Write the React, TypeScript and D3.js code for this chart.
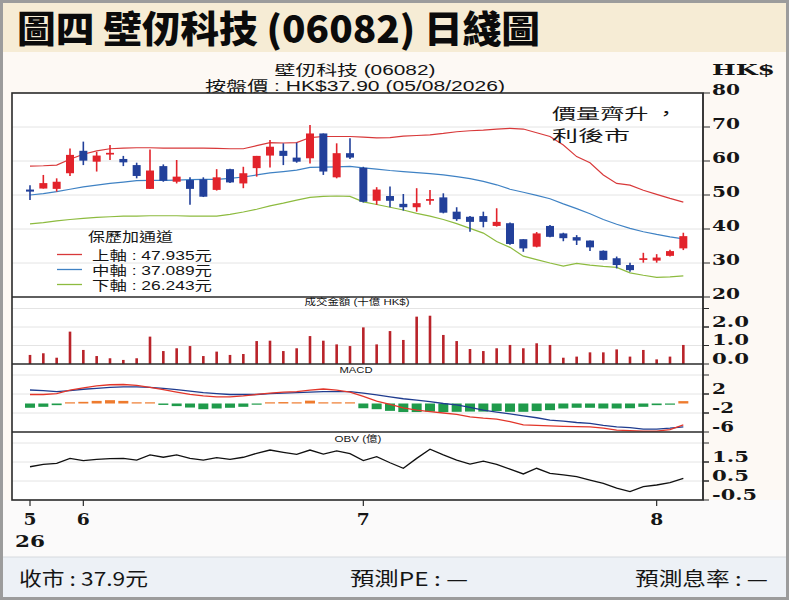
import React from 'react';
import * as d3 from 'd3';

// ---------- data ----------
const dates = [
  '2026-05-26','2026-05-27','2026-05-28','2026-05-29',
  '2026-06-01','2026-06-02','2026-06-03','2026-06-04','2026-06-05',
  '2026-06-08','2026-06-09','2026-06-10','2026-06-11','2026-06-12',
  '2026-06-15','2026-06-16','2026-06-17','2026-06-18',
  '2026-06-22','2026-06-23','2026-06-24','2026-06-25','2026-06-26',
  '2026-06-29','2026-06-30',
  '2026-07-02','2026-07-03',
  '2026-07-06','2026-07-07','2026-07-08','2026-07-09','2026-07-10',
  '2026-07-13','2026-07-14','2026-07-15','2026-07-16','2026-07-17',
  '2026-07-20','2026-07-21','2026-07-22','2026-07-23','2026-07-24',
  '2026-07-27','2026-07-28','2026-07-29','2026-07-30','2026-07-31',
  '2026-08-03','2026-08-04','2026-08-05',
];
const openP = [51.6,51.9,51.8,56.4,63.0,59.8,61.9,60.6,58.8,51.8,58.5,53.9,54.4,54.6,51.5,57.6,53.4,57.9,61.6,63.0,61.0,60.8,68.1,55.2,62.3,58.0,48.3,49.7,47.4,46.4,48.3,49.3,45.1,43.6,43.8,40.9,41.7,37.0,34.8,40.9,38.7,37.6,36.6,33.6,31.4,29.4,30.9,30.7,32.1,34.3];
const closeP = [51.0,53.5,53.9,61.8,60.1,61.6,62.4,59.6,55.6,57.2,54.2,55.4,51.8,49.5,55.2,53.7,56.4,61.5,64.2,61.5,59.8,68.1,56.9,62.3,61.0,48.0,51.6,48.3,46.4,47.6,48.8,44.8,42.9,42.1,42.1,42.1,35.6,34.3,38.7,37.7,37.3,36.6,34.6,30.9,29.4,27.9,31.4,31.6,33.5,37.9];
const highP = [52.9,55.9,54.9,63.7,65.7,62.7,64.7,61.5,59.5,63.4,59.0,60.3,55.2,55.2,57.6,57.7,58.3,61.5,66.2,65.2,65.4,70.6,68.1,65.2,66.7,58.3,52.3,52.5,50.3,52.0,51.5,50.5,46.4,43.8,45.1,46.1,41.9,37.0,39.1,41.2,38.9,38.2,36.6,33.7,31.9,30.1,33.0,32.6,33.9,38.9];
const lowP = [48.5,51.9,51.0,55.6,58.8,56.9,60.3,58.5,54.9,51.8,53.9,53.4,47.1,49.4,51.3,53.5,52.0,55.4,58.1,58.8,59.5,59.3,55.9,54.9,60.6,47.8,47.1,46.4,45.4,45.1,47.1,44.6,42.4,39.2,40.5,40.7,35.4,33.3,34.6,37.6,36.4,35.3,33.5,30.8,28.4,27.4,30.1,30.1,31.9,33.8];

const bollUpper = [58.5,58.6,58.8,60.5,62.0,63.0,63.6,63.8,63.9,63.9,63.8,63.8,63.8,63.8,63.7,63.6,63.6,64.5,65.4,65.3,65.4,66.9,67.2,67.2,67.2,67.0,66.8,66.9,67.3,67.5,67.7,68.1,68.6,68.9,69.1,69.4,69.6,69.4,68.3,67.2,64.7,61.3,59.5,55.9,53.4,52.9,51.4,50.2,49.0,47.9];
const bollMid = [50.0,50.4,51.0,51.7,52.4,52.9,53.4,53.8,54.2,54.3,54.3,54.4,54.5,54.6,54.6,54.9,55.3,55.9,56.5,56.9,57.3,58.1,58.2,58.3,58.4,58.0,57.6,57.2,56.9,56.6,56.3,55.9,55.4,54.8,54.0,53.0,51.7,50.8,49.9,48.9,47.4,46.0,44.5,42.8,41.4,40.2,39.2,38.4,37.7,37.1];
const bollLower = [41.5,41.9,42.4,42.8,43.1,43.4,43.6,43.8,43.8,43.9,43.9,43.9,43.8,43.8,43.8,44.3,45.0,45.8,46.8,47.6,48.5,49.3,49.6,49.7,49.6,48.0,47.2,46.4,45.6,44.6,43.8,42.8,41.6,40.2,38.8,36.3,34.6,32.0,31.0,30.0,29.1,29.9,29.4,29.0,28.7,27.1,26.4,25.8,25.9,26.2];

const turnover = [0.49,0.58,0.34,1.75,0.76,0.43,0.31,0.22,0.31,1.48,0.70,0.85,0.97,0.43,0.67,0.49,0.54,1.24,1.26,0.70,0.85,1.51,1.26,1.06,0.97,1.98,1.06,1.78,1.30,2.56,2.61,1.57,1.24,0.81,0.70,0.85,1.03,0.85,1.12,1.03,0.34,0.40,0.63,0.63,0.79,0.40,0.76,0.25,0.40,1.03];

const macdDif = [1.9,1.9,2.1,2.8,3.3,3.7,3.95,4.0,3.8,3.4,2.9,2.4,1.9,1.6,1.4,1.4,1.6,1.9,2.2,2.4,2.5,2.8,3.05,2.8,2.4,1.5,0.5,-0.2,-0.9,-1.4,-1.7,-2.0,-2.3,-2.8,-3.1,-3.3,-3.8,-4.5,-4.6,-4.7,-4.8,-4.85,-4.9,-5.2,-5.6,-5.7,-5.8,-5.8,-5.5,-4.5];
const macdSignal = [2.84,2.7,2.5,2.7,3.0,3.2,3.4,3.5,3.5,3.4,3.2,2.9,2.6,2.3,2.1,1.9,1.9,1.9,2.1,2.2,2.3,2.4,2.5,2.5,2.5,2.2,1.8,1.4,1.0,0.7,0.4,0.0,-0.3,-0.8,-1.4,-1.8,-2.2,-2.6,-3.0,-3.5,-3.7,-4.0,-4.2,-4.6,-4.9,-5.1,-5.4,-5.4,-5.2,-4.9];
const macdHist = [-0.9,-0.7,-0.35,0.1,0.35,0.55,0.7,0.55,0.15,0.0,-0.3,-0.55,-0.85,-1.2,-1.05,-0.9,-0.7,-0.1,0.15,0.3,0.2,0.6,0.2,0.15,0.1,-1.0,-1.2,-1.55,-1.8,-1.8,-1.7,-1.8,-1.75,-1.7,-1.7,-1.6,-1.75,-1.75,-1.6,-1.4,-1.05,-0.9,-0.9,-1.05,-1.05,-1.0,-0.7,-0.35,-0.1,0.5];

const obv = [1.25,1.38,1.43,1.69,1.57,1.64,1.68,1.69,1.6,1.87,1.75,1.87,1.69,1.6,1.73,1.64,1.75,1.96,2.13,2.01,1.9,2.13,1.92,2.08,1.94,1.57,1.78,1.46,1.17,1.69,2.17,1.87,1.6,1.39,1.55,1.38,1.12,0.87,1.17,0.9,0.82,0.73,0.55,0.38,0.12,-0.06,0.2,0.29,0.41,0.64];

const priceTicks = [80, 70, 60, 50, 40, 30, 20];
const priceGrid = [70, 60, 50, 40, 30];
const volTicks = [2.0, 1.0, 0.0];
const volGrid = [3, 2, 1];
const macdTicks = [2, -2, -6];
const macdGrid = [6, 2, -2];
const obvTicks = [1.5, 0.5, -0.5];
const obvGrid = [2.5, 1.5, 0.5];

const legendTitle = '保歷加通道';
const legendLabels = ['上軸', '中軸', '下軸'];
const legendValues = [47.935, 37.089, 26.243];

const titleText = '圖四  壁仞科技 (06082) 日綫圖';
const stockName = '壁仞科技 (06082)';
const quoteText = '按盤價 : HK$37.90 (05/08/2026)';
const noteLines = ['價量齊升 ，', '利後市'];
const footerTexts = ['收市 : 37.9元', '預測PE : —', '預測息率 : —'];

// ---------- styles ----------
const SANS = "'Liberation Sans','Noto Sans CJK TC','Noto Sans',sans-serif";
const CJK = "'Noto Sans CJK TC','Noto Sans',sans-serif";
const SERIF = "'DejaVu Serif','Liberation Serif',serif";
const C_UP = '#e2232b';
const C_DN = '#22409a';
const C_UPPER = '#d8393a';
const C_MID = '#3f82c4';
const C_LOWER = '#8dbb3f';
const C_GRID = '#e4e4e4';
const C_AXIS = '#2a2a2a';

function T(props: any) {
  const { x, y, w, size, anchor = 'start', weight = 400, family = SANS, fill = '#151515', children } = props;
  return (
    <text x={x} y={y} fontSize={size} fontWeight={weight} fontFamily={family} textAnchor={anchor}
      fill={fill} textLength={w} lengthAdjust="spacingAndGlyphs">{children}</text>
  );
}

function labelWidth(s: string) {
  let w = 0;
  for (const ch of s) w += ch === '.' ? 9 : ch === '-' ? 8 : 14;
  return w;
}

export default function App() {
  const L = 12, R = 703;
  const x = d3.scaleLinear().domain([0, dates.length - 1]).range([30, 683.33]);
  const yP = d3.scaleLinear().domain([20, 80]).range([297, 93]);
  const yV = d3.scaleLinear().domain([0, 1]).range([364, 345.5]);
  const yM = d3.scaleLinear().domain([-6, 2]).range([432, 394]);
  const yO = d3.scaleLinear().domain([-0.5, 1.5]).range([500, 462]);

  const bandLine = (arr: number[]) => d3.line<number>().x((_, i) => x(i)).y((d) => yP(d))(arr) || '';
  const macdLine = (arr: number[]) => d3.line<number>().x((_, i) => x(i)).y((d) => yM(d))(arr) || '';
  const obvLine = d3.line<number>().x((_, i) => x(i)).y((d) => yO(d))(obv) || '';

  const monthTicks: { i: number; label: string; sub?: string }[] = [];
  dates.forEach((d, i) => {
    const m = +d.slice(5, 7);
    const prev = i > 0 ? +dates[i - 1].slice(5, 7) : -1;
    if (i === 0) monthTicks.push({ i, label: String(m), sub: String(+d.slice(8, 10)) });
    else if (m !== prev) monthTicks.push({ i, label: String(m) });
  });

  const bodyW = 8;

  return (
    <svg width={789} height={600} style={{ position: 'absolute', left: 0, top: 0 }}
      xmlns="http://www.w3.org/2000/svg">
      <rect x={0} y={0} width={789} height={600} fill="#fdf9f4" />
      <rect x={0} y={0} width={789} height={52} fill="#f6ecd5" />
      <rect x={0} y={500} width={789} height={57} fill="#fbfafa" />
      <rect x={2} y={557} width={785} height={41} fill="#edf1f6" />
      <line x1={2} x2={787} y1={557} y2={557} stroke="#d6dade" strokeWidth={1} />
      <rect x={1.5} y={1.5} width={786} height={597} fill="none" stroke="#9c9c9c" strokeWidth={3} />

      {/* title */}
      <T x={17} y={43} w={523} size={37} weight={900} family={CJK} fill="#0b0b0b">{titleText}</T>

      {/* header */}
      <T x={355} y={75} w={161} size={14} anchor="middle">{stockName}</T>
      <T x={355} y={91} w={300} size={14} anchor="middle">{quoteText}</T>
      <T x={712} y={75} w={63} size={15} weight={700} family={SERIF}>HK$</T>

      <rect x={L} y={93} width={R - L} height={407} fill="#ffffff" />

      {priceGrid.map((v) => <line key={'pg' + v} x1={L} x2={R} y1={yP(v)} y2={yP(v)} stroke={C_GRID} />)}
      {volGrid.map((v) => <line key={'vg' + v} x1={L} x2={R} y1={yV(v)} y2={yV(v)} stroke={C_GRID} />)}
      {macdGrid.map((v) => <line key={'mg' + v} x1={L} x2={R} y1={yM(v)} y2={yM(v)} stroke={C_GRID} />)}
      {obvGrid.map((v) => <line key={'og' + v} x1={L} x2={R} y1={yO(v)} y2={yO(v)} stroke={C_GRID} />)}

      <path d={bandLine(bollUpper)} fill="none" stroke={C_UPPER} strokeWidth={1.2} />
      <path d={bandLine(bollMid)} fill="none" stroke={C_MID} strokeWidth={1.2} />
      <path d={bandLine(bollLower)} fill="none" stroke={C_LOWER} strokeWidth={1.2} />

      {openP.map((o, i) => {
        const c = closeP[i];
        const up = c >= o;
        const col = up ? C_UP : C_DN;
        const top = yP(Math.max(o, c));
        const bot = yP(Math.min(o, c));
        return (
          <g key={'c' + i}>
            <line x1={x(i)} x2={x(i)} y1={yP(highP[i])} y2={yP(lowP[i])} stroke={col} strokeWidth={1.6} />
            <rect x={x(i) - bodyW / 2} y={top} width={bodyW} height={Math.max(1.6, bot - top)} fill={col} />
          </g>
        );
      })}

      {/* annotation */}
      <T x={552} y={119} w={126} size={14.5} family={CJK}>{noteLines[0]}</T>
      <T x={552} y={141} w={78} size={14.5} family={CJK}>{noteLines[1]}</T>

      {/* legend */}
      <T x={88} y={241} w={85} size={13} family={CJK}>{legendTitle}</T>
      {legendLabels.map((lb, k) => {
        const cy = 254.5 + k * 15;
        const col = [C_UPPER, C_MID, C_LOWER][k];
        return (
          <g key={'lg' + k}>
            <line x1={57} x2={82} y1={cy} y2={cy} stroke={col} strokeWidth={1.3} />
            <T x={92} y={cy + 5.5} w={120} size={13}>{`${lb} : ${legendValues[k].toFixed(3)}元`}</T>
          </g>
        );
      })}

      {/* volume */}
      {turnover.map((v, i) => (
        <rect key={'v' + i} x={x(i) - 1.3} y={yV(v)} width={2.6} height={yV(0) - yV(v)} fill="#b9232a" />
      ))}
      <T x={357} y={305} w={105} size={9} anchor="middle">成交金額 (十億 HK$)</T>

      {/* MACD */}
      {macdHist.map((v, i) => {
        const h = Math.max(1.2, Math.abs(yM(v) - yM(0)));
        const y0 = v >= 0 ? yM(0) - h : yM(0);
        return <rect key={'h' + i} x={x(i) - 5} y={y0} width={10} height={h} fill={v >= 0 ? '#ee7b2e' : '#1f9b4b'} />;
      })}
      <path d={macdLine(macdSignal)} fill="none" stroke="#1f3c8f" strokeWidth={1.3} />
      <path d={macdLine(macdDif)} fill="none" stroke="#e2362a" strokeWidth={1.3} />
      <T x={356} y={373} w={33} size={9} anchor="middle">MACD</T>

      {/* OBV */}
      <path d={obvLine} fill="none" stroke="#111" strokeWidth={1.3} />
      <T x={358} y={442} w={47} size={9} anchor="middle">OBV (億)</T>

      <rect x={L} y={93} width={R - L} height={407} fill="none" stroke={C_AXIS} strokeWidth={1.6} />
      {[297, 364, 432].map((yy) => <line key={'sep' + yy} x1={L} x2={R} y1={yy} y2={yy} stroke={C_AXIS} strokeWidth={1.6} />)}

      {/* right axis */}
      <line x1={R} x2={R} y1={93} y2={500} stroke={C_AXIS} strokeWidth={1.2} />
      {priceTicks.map((v) => (
        <g key={'pt' + v}>
          <line x1={R} x2={R + 7} y1={yP(v)} y2={yP(v)} stroke={C_AXIS} />
          <T x={712} y={yP(v) + 1.5} w={labelWidth(String(v))} size={15} weight={700} family={SERIF}>{String(v)}</T>
        </g>
      ))}
      {volGrid.concat(volTicks).map((v, k) => <line key={'vt' + k} x1={R} x2={R + 6} y1={yV(v)} y2={yV(v)} stroke={C_AXIS} />)}
      {volTicks.map((v) => (
        <T key={'vl' + v} x={712} y={yV(v) - 0.5} w={labelWidth(v.toFixed(1))} size={15} weight={700} family={SERIF}>{v.toFixed(1)}</T>
      ))}
      {macdGrid.concat(macdTicks).map((v, k) => <line key={'mt' + k} x1={R} x2={R + 6} y1={yM(v)} y2={yM(v)} stroke={C_AXIS} />)}
      {macdTicks.map((v) => (
        <T key={'ml' + v} x={712} y={yM(v) - 0.5} w={labelWidth(String(v))} size={15} weight={700} family={SERIF}>{String(v)}</T>
      ))}
      {obvGrid.concat(obvTicks).map((v, k) => <line key={'ot' + k} x1={R} x2={R + 6} y1={yO(v)} y2={yO(v)} stroke={C_AXIS} />)}
      {obvTicks.map((v) => (
        <T key={'ol' + v} x={712} y={yO(v) - 0.5} w={labelWidth(v.toFixed(1))} size={15} weight={700} family={SERIF}>{v.toFixed(1)}</T>
      ))}

      {monthTicks.map((t) => (
        <g key={'xt' + t.i}>
          <line x1={x(t.i)} x2={x(t.i)} y1={500} y2={506} stroke={C_AXIS} strokeWidth={1.2} />
          <T x={x(t.i)} y={525} w={13} size={17} weight={700} family={SERIF} anchor="middle">{t.label}</T>
          {t.sub && <T x={x(t.i)} y={547} w={30} size={17} weight={700} family={SERIF} anchor="middle">{t.sub}</T>}
        </g>
      ))}

      {/* footer */}
      <T x={19} y={586} w={129} size={19} family={CJK}>{footerTexts[0]}</T>
      <T x={350} y={586} w={118} size={19} family={CJK}>{footerTexts[1]}</T>
      <T x={635} y={586} w={133} size={19} family={CJK}>{footerTexts[2]}</T>
    </svg>
  );
}
